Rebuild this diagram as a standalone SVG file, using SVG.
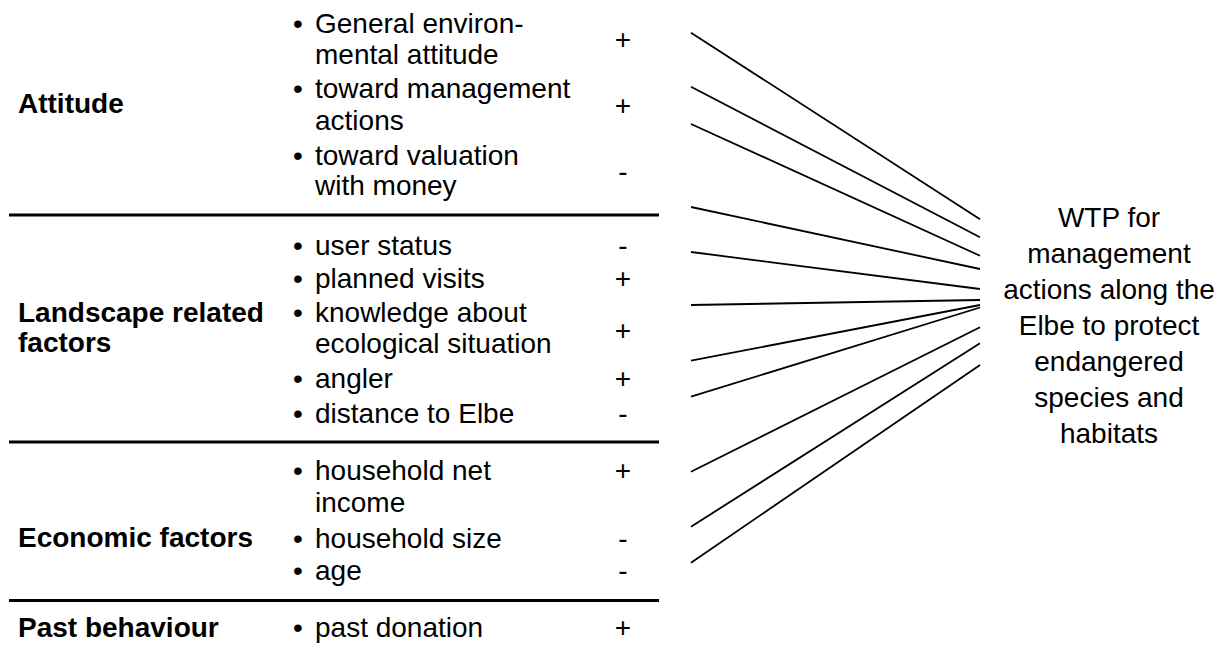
<svg xmlns="http://www.w3.org/2000/svg" width="1224" height="646" viewBox="0 0 1224 646">
<style>
text { font-family: "Liberation Sans", Arial, sans-serif; font-size: 28px; fill: #000; }
.title { font-weight: bold; }
.sign { text-anchor: middle; }
.wtp text { text-anchor: middle; }
.rule { stroke: #000; stroke-width: 3; }
.conn line { stroke: #000; stroke-width: 1.8; stroke-linecap: butt; }
</style>
<rect width="1224" height="646" fill="#fff"/>

<g id="attitude">
  <text class="title" x="18" y="113">Attitude</text>
  <text x="293" y="33">•</text>
  <text x="315" y="33">General environ-</text>
  <text x="315" y="64">mental attitude</text>
  <text class="sign" x="623" y="49">+</text>
  <text x="293" y="98">•</text>
  <text x="315" y="98">toward management</text>
  <text x="315" y="130">actions</text>
  <text class="sign" x="623" y="115">+</text>
  <text x="293" y="165">•</text>
  <text x="315" y="165">toward valuation</text>
  <text x="315" y="195">with money</text>
  <text class="sign" x="623" y="181">-</text>
</g>
<line class="rule" x1="9" y1="215" x2="659" y2="215"/>

<g id="landscape">
  <text class="title" x="18" y="322">Landscape related</text>
  <text class="title" x="18" y="352">factors</text>
  <text x="293" y="255">•</text>
  <text x="315" y="255">user status</text>
  <text class="sign" x="623" y="255">-</text>
  <text x="293" y="288">•</text>
  <text x="315" y="288">planned visits</text>
  <text class="sign" x="623" y="288">+</text>
  <text x="293" y="322">•</text>
  <text x="315" y="322">knowledge about</text>
  <text x="315" y="353">ecological situation</text>
  <text class="sign" x="623" y="340">+</text>
  <text x="293" y="388">•</text>
  <text x="315" y="388">angler</text>
  <text class="sign" x="623" y="388">+</text>
  <text x="293" y="423">•</text>
  <text x="315" y="423">distance to Elbe</text>
  <text class="sign" x="623" y="423">-</text>
</g>
<line class="rule" x1="9" y1="442" x2="659" y2="442"/>

<g id="economic">
  <text class="title" x="18" y="547">Economic factors</text>
  <text x="293" y="480">•</text>
  <text x="315" y="480">household net</text>
  <text x="315" y="512">income</text>
  <text class="sign" x="623" y="480">+</text>
  <text x="293" y="548">•</text>
  <text x="315" y="548">household size</text>
  <text class="sign" x="623" y="548">-</text>
  <text x="293" y="580">•</text>
  <text x="315" y="580">age</text>
  <text class="sign" x="623" y="580">-</text>
</g>
<line class="rule" x1="9" y1="600.5" x2="659" y2="600.5"/>

<g id="past">
  <text class="title" x="18" y="637">Past behaviour</text>
  <text x="293" y="637">•</text>
  <text x="315" y="637">past donation</text>
  <text class="sign" x="623" y="637">+</text>
</g>

<g id="wtp" class="wtp">
  <text x="1109" y="227">WTP for</text>
  <text x="1109" y="263">management</text>
  <text x="1109" y="299">actions along the</text>
  <text x="1109" y="335">Elbe to protect</text>
  <text x="1109" y="371">endangered</text>
  <text x="1109" y="407">species and</text>
  <text x="1109" y="443">habitats</text>
</g>

<g id="connectors" class="conn">
  <line x1="691" y1="32.7" x2="980" y2="219.3"/>
  <line x1="691" y1="86.7" x2="980" y2="237.3"/>
  <line x1="691" y1="124" x2="980" y2="255.7"/>
  <line x1="691" y1="207" x2="980" y2="269"/>
  <line x1="691" y1="252" x2="980" y2="289"/>
  <line x1="691" y1="305" x2="980" y2="300"/>
  <line x1="691" y1="360.7" x2="980" y2="305"/>
  <line x1="691" y1="396.7" x2="980" y2="307.5"/>
  <line x1="691" y1="471.7" x2="980" y2="327.3"/>
  <line x1="691" y1="526.7" x2="980" y2="343.3"/>
  <line x1="691" y1="562.7" x2="980" y2="365"/>
</g>
</svg>
